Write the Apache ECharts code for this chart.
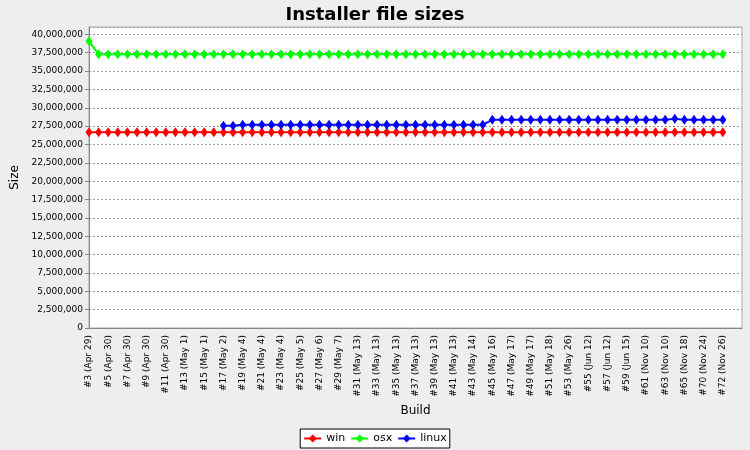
<!DOCTYPE html>
<html>
<head>
<meta charset="utf-8">
<script src="https://cdn.jsdelivr.net/npm/echarts@6/dist/echarts.min.js"></script>
<style>html,body{margin:0;padding:0;background:#eeeeee;}#c{width:750px;height:450px;}</style>
</head>
<body>
<div id="c"></div>
<script>
var categories = [
  '#3 (Apr 29)','#4 (Apr 30)','#5 (Apr 30)','#6 (Apr 30)','#7 (Apr 30)','#8 (Apr 30)','#9 (Apr 30)','#10 (Apr 30)',
  '#11 (Apr 30)','#12 (May 1)','#13 (May 1)','#14 (May 1)','#15 (May 1)','#16 (May 2)','#17 (May 2)','#18 (May 3)',
  '#19 (May 4)','#20 (May 4)','#21 (May 4)','#22 (May 4)','#23 (May 4)','#24 (May 5)','#25 (May 5)','#26 (May 6)',
  '#27 (May 6)','#28 (May 7)','#29 (May 7)','#30 (May 13)','#31 (May 13)','#32 (May 13)','#33 (May 13)','#34 (May 13)',
  '#35 (May 13)','#36 (May 13)','#37 (May 13)','#38 (May 13)','#39 (May 13)','#40 (May 13)','#41 (May 13)','#42 (May 14)',
  '#43 (May 14)','#44 (May 14)','#45 (May 16)','#46 (May 17)','#47 (May 17)','#48 (May 17)','#49 (May 17)','#50 (May 18)',
  '#51 (May 18)','#52 (May 26)','#53 (May 26)','#54 (Jun 12)','#55 (Jun 12)','#56 (Jun 12)','#57 (Jun 12)','#58 (Jun 15)',
  '#59 (Jun 15)','#60 (Nov 10)','#61 (Nov 10)','#62 (Nov 10)','#63 (Nov 10)','#64 (Nov 18)','#65 (Nov 18)','#68 (Nov 24)',
  '#70 (Nov 24)','#71 (Nov 26)','#72 (Nov 26)'
];
var win = [
  26650000,26650000,26650000,26650000,26650000,26650000,26650000,26650000,26650000,26650000,
  26650000,26650000,26650000,26650000,26650000,26650000,26650000,26650000,26650000,26650000,
  26650000,26650000,26650000,26650000,26650000,26650000,26650000,26650000,26650000,26650000,
  26650000,26650000,26650000,26650000,26650000,26650000,26650000,26650000,26650000,26650000,
  26650000,26650000,26650000,26650000,26650000,26650000,26650000,26650000,26650000,26650000,
  26650000,26650000,26650000,26650000,26650000,26650000,26650000,26650000,26650000,26650000,
  26650000,26650000,26650000,26650000,26650000,26650000,26650000
];
var osx = [
  39050000,37300000,37300000,37300000,37300000,37300000,37300000,37300000,37300000,37300000,
  37300000,37300000,37300000,37300000,37300000,37300000,37300000,37300000,37300000,37300000,
  37300000,37300000,37300000,37300000,37300000,37300000,37300000,37300000,37300000,37300000,
  37300000,37300000,37300000,37300000,37300000,37300000,37300000,37300000,37300000,37300000,
  37300000,37300000,37300000,37300000,37300000,37300000,37300000,37300000,37300000,37300000,
  37300000,37300000,37300000,37300000,37300000,37300000,37300000,37300000,37300000,37300000,
  37300000,37300000,37300000,37300000,37300000,37300000,37300000
];
var linux = [
  null,null,null,null,null,null,null,null,null,null,
  null,null,null,null,27550000,27550000,27700000,27700000,27700000,27700000,
  27700000,27700000,27700000,27700000,27700000,27700000,27700000,27700000,27700000,27700000,
  27700000,27700000,27700000,27700000,27700000,27700000,27700000,27700000,27700000,27700000,
  27700000,27700000,28350000,28350000,28350000,28350000,28350000,28350000,28350000,28350000,
  28350000,28350000,28350000,28350000,28350000,28350000,28350000,28350000,28350000,28350000,
  28350000,28500000,28350000,28350000,28350000,28350000,28350000
];

function pairs(arr){ return arr.map(function(v,i){ return [i, v]; }); }
var FONT = 'DejaVu Sans';
var chart = echarts.init(document.getElementById('c'), null, {renderer:'canvas'});
function mk(name, data, color){
  return {
    name: name, type: 'line', data: pairs(data), connectNulls: false,
    symbol: 'diamond', symbolSize: [7, 10], showSymbol: true,
    lineStyle: {color: color, width: 2}, itemStyle: {color: color},
    emphasis: {disabled: true}
  };
}
chart.setOption({
  animation: false,
  backgroundColor: '#eeeeee',
  title: {text: 'Installer file sizes', left: 'center', top: 1,
    textStyle: {fontFamily: FONT, fontSize: 18, fontWeight: 'bold', color: '#000'}},
  grid: {left: 89, right: 8, top: 27, bottom: 122, show: true, backgroundColor: '#ffffff', borderColor: '#aaaaaa', borderWidth: 1},
  legend: {
    bottom: 2, left: 'center', backgroundColor: '#ffffff', borderColor: '#000', borderWidth: 1,
    padding: [4, 3, 4, 3], itemGap: 5, itemWidth: 17, itemHeight: 10,
    textStyle: {fontFamily: FONT, fontSize: 11, color: '#000'},
    data: ['win', 'osx', 'linux']
  },
  xAxis: {
    type: 'value', min: 0, max: 68, interval: 2,
    name: 'Build', nameLocation: 'middle', nameGap: 74,
    nameTextStyle: {fontFamily: FONT, fontSize: 12, color: '#000'},
    axisLine: {show: true, lineStyle: {color: '#888'}},
    axisTick: {show: false},
    splitLine: {show: false},
    axisLabel: {rotate: 90, fontFamily: FONT, fontSize: 9, color: '#000', margin: 7,
      formatter: function(v){ return categories[v] || ''; }}
  },
  yAxis: {
    type: 'value', min: 0, max: 41000000, interval: 2500000,
    name: 'Size', nameLocation: 'middle', nameGap: 64,
    nameTextStyle: {fontFamily: FONT, fontSize: 12, color: '#000'},
    axisLine: {show: true, lineStyle: {color: '#888'}},
    axisTick: {show: true, length: 4, lineStyle: {color: '#888'}},
    splitLine: {show: true, lineStyle: {color: '#999', type: [2, 2], width: 1}},
    axisLabel: {fontFamily: FONT, fontSize: 9, color: '#000', margin: 6, showMaxLabel: false,
      formatter: function(v){ return v > 40000000 ? '' : v.toLocaleString('en-US'); }}
  },
  series: [mk('win', win, '#ff0000'), mk('osx', osx, '#00ff00'), mk('linux', linux, '#0000ff')]
});
</script>
</body>
</html>
